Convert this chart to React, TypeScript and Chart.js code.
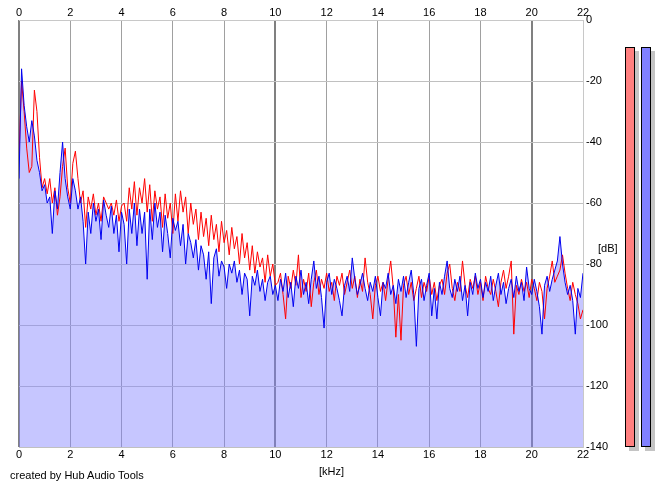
import React, { useEffect, useRef } from "react";
import { Chart, registerables } from "chart.js";

Chart.register(...registerables);

// frequency resolution of the spectrum arrays (kHz per bin)
const BIN_KHZ = 0.1;
const X_MIN = 0;
const X_MAX = 22;
const X_STEP = 2;
const Y_MIN = -140;
const Y_MAX = 0;
const Y_STEP = 20;

// left channel (red) spectrum, dB
const LEFT_DB = [
  -45, -20, -30, -42, -50, -48, -23, -30, -45, -55, -52,
  -57, -52, -60, -55, -64, -58, -48, -42, -55, -60,
  -47, -43, -52, -60, -56, -68, -58, -62, -57, -64,
  -60, -66, -58, -60, -62, -60, -64, -59, -66, -61,
  -60, -66, -55, -62, -53, -64, -55, -60, -52, -63,
  -54, -66, -56, -62, -58, -68, -57, -65, -60, -70,
  -57, -66, -56, -63, -58, -70, -60, -67, -62, -72,
  -63, -71, -65, -74, -64, -72, -67, -76, -66, -73,
  -69, -77, -68, -75, -71, -80, -70, -78, -73, -82,
  -74, -83, -76, -81, -78, -86, -77, -84, -80, -87,
  -86, -83, -90, -98, -84, -88, -82, -87, -77, -91,
  -85, -89, -83, -94, -86, -82, -90, -85, -88, -83,
  -89, -86, -92, -84, -87, -83, -90, -86, -82, -88,
  -84, -91, -85, -89, -78, -86, -90, -98, -87, -84,
  -89, -86, -92, -85, -79, -88, -104, -90, -105, -87,
  -84, -90, -86, -92, -88, -84, -91, -86, -89, -84,
  -90, -86, -92, -87, -85, -90, -83, -80, -88, -92,
  -86, -89, -79, -87, -91, -85, -88, -84, -90, -86,
  -92, -84, -88, -90, -85, -89, -94, -86, -82, -88,
  -84, -79, -103, -87, -90, -85, -89, -86, -91, -85,
  -88, -92, -86, -89, -98, -88, -84, -79, -86, -84,
  -82, -77, -83, -88, -92, -86, -90, -93, -98, -95,
];

// right channel (blue) spectrum, dB
const RIGHT_DB = [
  -52, -16, -28, -35, -40, -33, -38, -46, -50, -56, -54,
  -60, -58, -70, -56, -62, -50, -40, -52, -58, -62,
  -52, -56, -62, -58, -66, -80, -63, -70, -60, -66,
  -62, -72, -59, -64, -68, -61, -70, -64, -76, -63,
  -67, -80, -62, -70, -60, -74, -62, -70, -63, -85,
  -62, -72, -60, -68, -63, -76, -64, -70, -78, -65,
  -69, -66, -74, -67, -80, -70, -73, -78, -72, -82,
  -74, -77, -85, -76, -93, -78, -75, -84, -79, -81,
  -88, -80, -83, -79, -86, -82, -90, -83, -85, -97,
  -84, -87, -82, -89, -85, -92, -86, -84, -90, -87,
  -92, -85, -89, -83, -91, -86, -94, -84, -88, -82,
  -90, -86, -93, -85, -79, -88, -84, -91, -101, -86,
  -83, -90, -85, -88, -92, -97, -87, -84, -89, -78,
  -85, -90, -87, -83, -88, -92, -86, -89, -84, -91,
  -97, -86, -88, -83, -90, -87, -93, -85, -89, -84,
  -91, -86, -82, -90, -107, -88, -85, -92, -87, -83,
  -97, -88, -98, -86, -90, -84, -79, -88, -91, -85,
  -89, -84, -92, -87, -97, -86, -90, -83, -88, -85,
  -91, -86, -89, -84, -92, -87, -83, -90, -86, -93,
  -88, -85, -91, -84, -89, -86, -92, -81, -88, -90,
  -85, -89, -94, -103, -87, -84, -89, -85, -82, -79,
  -71, -80, -86, -90, -87, -92, -103, -88, -91, -83,
];

// level meters (left, right), dB
const METER_DB = [-9, -9];
const METER_FILL = ["#ff8080", "#8080ff"];

const FONT = "'Liberation Sans', Arial, sans-serif";

const toPoints = (arr: number[]) => arr.map((v, i) => ({ x: i * BIN_KHZ, y: v }));

const meterPlugin = {
  id: "meters",
  afterDraw(chart: any) {
    const ctx = chart.ctx;
    const y = chart.scales.y;
    const bottom = y.getPixelForValue(Y_MIN);
    const xs = [625, 641];
    const w = 10;
    ctx.save();
    METER_DB.forEach((lvl, i) => {
      const top = Math.round(y.getPixelForValue(lvl));
      const h = Math.round(bottom) - top;
      ctx.fillStyle = "#c4c4c4";
      ctx.fillRect(xs[i] + 4, top + 4, w, h);
      ctx.fillStyle = METER_FILL[i];
      ctx.fillRect(xs[i], top, w, h);
      ctx.strokeStyle = "#000";
      ctx.lineWidth = 1;
      ctx.strokeRect(xs[i] + 0.5, top + 0.5, w - 1, h - 1);
    });
    ctx.restore();
  },
};

export default function App() {
  const ref = useRef<HTMLCanvasElement | null>(null);

  useEffect(() => {
    if (!ref.current) return;
    const tickFont = { family: FONT, size: 11 };
    const chart = new Chart(ref.current, {
      type: "line",
      data: {
        datasets: [
          {
            label: "fill",
            data: toPoints(RIGHT_DB),
            borderWidth: 0,
            borderColor: "rgba(0,0,0,0)",
            backgroundColor: "rgba(128,128,255,0.45)",
            fill: "start",
            pointRadius: 0,
            order: 3,
          },
          {
            label: "L",
            data: toPoints(LEFT_DB),
            borderColor: "#ff0000",
            borderWidth: 1,
            pointRadius: 0,
            fill: false,
            order: 2,
          },
          {
            label: "R",
            data: toPoints(RIGHT_DB),
            borderColor: "#0000f0",
            borderWidth: 1,
            pointRadius: 0,
            fill: false,
            order: 1,
          },
        ],
      },
      options: {
        animation: false,
        responsive: false,
        devicePixelRatio: 1,
        events: [],
        layout: { padding: { left: 19, top: 0, right: 0, bottom: 0 } },
        plugins: { legend: { display: false }, tooltip: { enabled: false } },
        elements: { line: { tension: 0 } },
        scales: {
          x: {
            type: "linear",
            position: "bottom",
            min: X_MIN,
            max: X_MAX,
            ticks: { stepSize: X_STEP, color: "#000", font: tickFont, padding: 1, maxRotation: 0, autoSkip: false },
            grid: {
              drawTicks: false,
              color: (c: any) =>
                c.tick && c.tick.value === X_MAX ? "#c8c8c8" : c.tick && c.tick.value % 10 === 0 ? "#808080" : "#a0a0a0",
              lineWidth: (c: any) => (c.tick && c.tick.value % 10 === 0 ? 2 : 1),
            },
            border: { display: false },
            afterFit: (s: any) => {
              s.height = 40;
            },
          },
          x2: {
            type: "linear",
            position: "top",
            min: X_MIN,
            max: X_MAX,
            ticks: { stepSize: X_STEP, color: "#000", font: tickFont, padding: 0, maxRotation: 0, autoSkip: false },
            grid: { display: false, drawTicks: false },
            border: { display: true, color: "#c8c8c8" },
            afterFit: (s: any) => {
              s.height = 20;
            },
          },
          y: {
            position: "right",
            min: Y_MIN,
            max: Y_MAX,
            ticks: { stepSize: Y_STEP, color: "#000", font: tickFont, padding: 3, callback: (v: any) => String(v) },
            grid: { drawTicks: false, color: "#c0c0c0" },
            border: { display: true, color: "#c8c8c8" },
            afterFit: (s: any) => {
              s.width = 82;
            },
          },
        },
      },
      plugins: [meterPlugin],
    } as any);
    return () => chart.destroy();
  }, []);

  const txt: React.CSSProperties = {
    position: "absolute",
    fontFamily: FONT,
    fontSize: 11,
    color: "#000",
    lineHeight: "11px",
    whiteSpace: "nowrap",
  };

  return (
    <div style={{ position: "fixed", left: 0, top: 0, width: 665, height: 487, background: "#fff" }}>
      <canvas ref={ref} width={665} height={487} style={{ position: "absolute", left: 0, top: 0 }} />
      <div style={{ ...txt, left: 598, top: 243 }}>[dB]</div>
      <div style={{ ...txt, left: 319, top: 466 }}>[kHz]</div>
      <div style={{ ...txt, left: 10, top: 470 }}>created by Hub Audio Tools</div>
    </div>
  );
}
